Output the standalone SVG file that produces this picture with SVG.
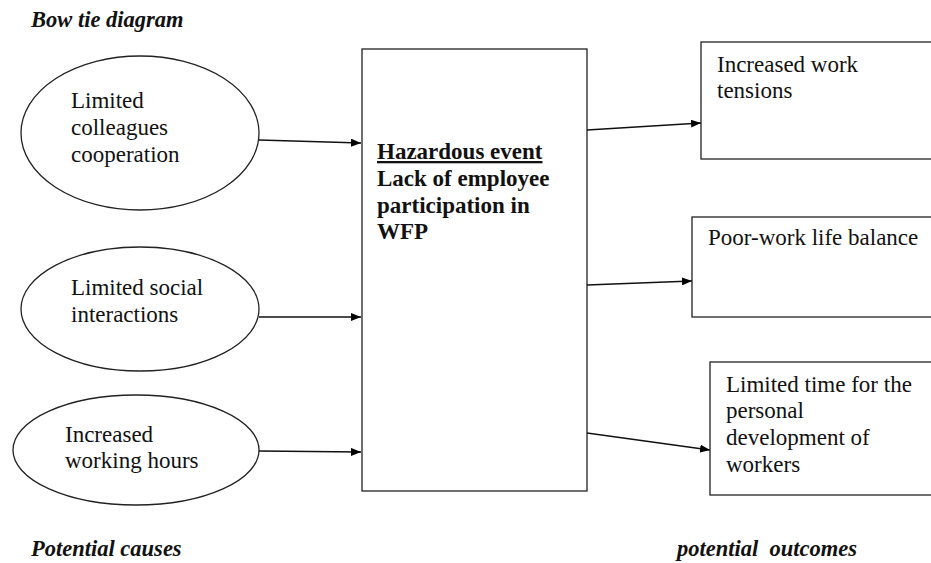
<svg xmlns="http://www.w3.org/2000/svg" width="931" height="563" viewBox="0 0 931 563">
<defs>
<marker id="arr" viewBox="0 0 10 8" refX="10" refY="4" markerWidth="10" markerHeight="8" markerUnits="userSpaceOnUse" orient="auto">
<path d="M0,0 L10,4 L0,8 Z" fill="#000"/>
</marker>
</defs>
<style>
.shape{fill:#fff;stroke:#222;stroke-width:1.3}
.t{font-family:"Liberation Serif","DejaVu Serif",serif;font-size:23px;fill:#111}
.b{font-weight:bold}
.h{font-family:"Liberation Serif","DejaVu Serif",serif;font-size:22.5px;font-weight:bold;font-style:italic;fill:#111}
.c{stroke:#111;stroke-width:1.3;fill:none;marker-end:url(#arr)}
</style>
<rect width="931" height="563" fill="#fff"/>
<text class="h" x="31" y="27">Bow tie diagram</text>
<text class="h" x="31" y="556">Potential causes</text>
<text class="h" x="677" y="556" xml:space="preserve">potential  outcomes</text>
<g id="cause1">
<ellipse class="shape" cx="140" cy="133" rx="119" ry="77"/>
<text class="t" x="71" y="108">Limited</text>
<text class="t" x="71" y="135">colleagues</text>
<text class="t" x="71" y="162">cooperation</text>
</g>
<g id="cause2">
<ellipse class="shape" cx="140" cy="309" rx="119" ry="62"/>
<text class="t" x="71" y="295">Limited social</text>
<text class="t" x="71" y="322">interactions</text>
</g>
<g id="cause3">
<ellipse class="shape" cx="136" cy="450" rx="123" ry="55"/>
<text class="t" x="65" y="442">Increased</text>
<text class="t" x="65" y="468">working hours</text>
</g>
<g id="event">
<rect class="shape" x="362" y="49" width="225" height="442"/>
<text class="t b" x="377" y="159" text-decoration="underline">Hazardous event</text>
<text class="t b" x="377" y="186">Lack of employee</text>
<text class="t b" x="377" y="213">participation in</text>
<text class="t b" x="377" y="239">WFP</text>
</g>
<g id="outcome1">
<rect class="shape" x="701" y="42" width="240" height="117"/>
<text class="t" x="717" y="72">Increased work</text>
<text class="t" x="717" y="98">tensions</text>
</g>
<g id="outcome2">
<rect class="shape" x="692" y="217" width="250" height="100"/>
<text class="t" x="708" y="245">Poor-work life balance</text>
</g>
<g id="outcome3">
<rect class="shape" x="710" y="362" width="231" height="133"/>
<text class="t" x="726" y="392">Limited time for the</text>
<text class="t" x="726" y="418">personal</text>
<text class="t" x="726" y="445">development of</text>
<text class="t" x="726" y="472">workers</text>
</g>
<g id="connectors">
<line class="c" x1="259" y1="140" x2="361" y2="143"/>
<line class="c" x1="259" y1="317" x2="361" y2="317"/>
<line class="c" x1="259" y1="451" x2="361" y2="452"/>
<line class="c" x1="587" y1="130" x2="701" y2="123"/>
<line class="c" x1="587" y1="285" x2="692" y2="281"/>
<line class="c" x1="587" y1="433" x2="710" y2="450"/>
</g>
</svg>
